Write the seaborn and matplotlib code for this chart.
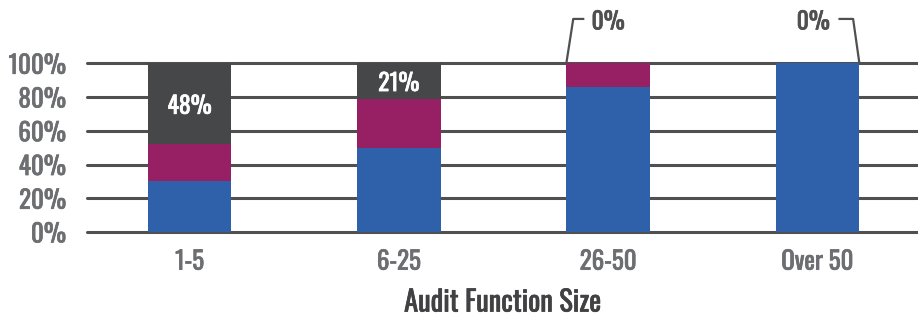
import matplotlib
matplotlib.use("Agg")
import matplotlib.pyplot as plt
import matplotlib.patheffects as pe
import seaborn as sns
import pandas as pd

categories = ["1-5", "6-25", "26-50", "Over 50"]
blue_vals = [30, 50, 86, 100]
purple_vals = [22, 29, 14, 0]
dark_vals = [48, 21, 0, 0]
dark_labels = ["48%", "21%", "0%", "0%"]
ytick_vals = [0, 20, 40, 60, 80, 100]
ytick_labels = ["0%", "20%", "40%", "60%", "80%", "100%"]
xlabel_text = "Audit Function Size"

sns.set_theme(style="white")
plt.rcParams["font.family"] = ["Oswald", "DejaVu Sans"]

BLUE = "#2f61ab"
PURPLE = "#971f63"
DARK = "#464748"
GRID = "#505050"
TICK = "#6d6e71"


def bold(t, color, w=0.5):
    t.set_path_effects([pe.withStroke(linewidth=w, foreground=color)])


df = pd.DataFrame({
    "cat": categories,
    "blue": blue_vals,
    "purple": purple_vals,
    "dark": dark_vals,
})
df["c_purple"] = df["blue"] + df["purple"]
df["c_dark"] = df["c_purple"] + df["dark"]

fig = plt.figure(figsize=(9.18, 3.16), dpi=100)
ax = fig.add_axes([87 / 918, (316 - 232) / 316, (918 - 87) / 918, (232 - 63.3) / 316])

for col, color in [("c_dark", DARK), ("c_purple", PURPLE), ("blue", BLUE)]:
    sns.barplot(data=df, x="cat", y=col, color=color, width=0.4, ax=ax,
                saturation=1, order=categories, zorder=3, linewidth=0)

ax.set_xlim(-0.49, 3.48)
ax.set_ylim(0, 100)
ax.set_yticks(ytick_vals)
ax.set_yticklabels(ytick_labels)
for y in ytick_vals:
    ax.axhline(y, color=GRID, lw=2.2, zorder=1, clip_on=False)
for s in ax.spines.values():
    s.set_visible(False)

ax.tick_params(axis="y", length=0, pad=15, labelsize=18, labelcolor=TICK)
ax.tick_params(axis="x", length=0, pad=12, labelsize=18, labelcolor=TICK)
for t in ax.get_yticklabels() + ax.get_xticklabels():
    bold(t, TICK)
ax.set_ylabel("")
ax.set_xlabel(xlabel_text, fontsize=20.5, color="#414042", labelpad=10)
bold(ax.xaxis.label, "#414042")

# labels in dark segments
for i in range(2):
    yc = df["c_purple"][i] + df["dark"][i] / 2
    t = ax.text(i, yc - 1.5, dark_labels[i], color="white", ha="center", va="center",
                fontsize=17, zorder=5)
    bold(t, "white")

# callouts for 0%
ax.plot([1.8, 1.833, 1.886], [100, 126.3, 126.3], color=GRID, lw=1.6,
        clip_on=False, zorder=4, solid_capstyle="butt")
t = ax.text(2.0, 124.5, dark_labels[2], color=GRID, ha="center", va="center",
            fontsize=17, clip_on=False)
bold(t, GRID)
ax.plot([3.2, 3.17, 3.10], [100, 126.3, 126.3], color=GRID, lw=1.6,
        clip_on=False, zorder=4, solid_capstyle="butt")
t = ax.text(2.98, 124.5, dark_labels[3], color=GRID, ha="center", va="center",
            fontsize=17, clip_on=False)
bold(t, GRID)

fig.savefig("out.png", dpi=100)
